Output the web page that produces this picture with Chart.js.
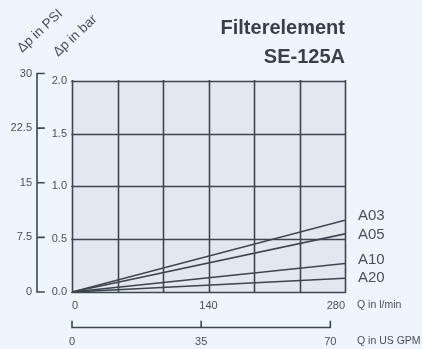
<!DOCTYPE html>
<html>
<head>
<meta charset="utf-8">
<title>Filterelement SE-125A</title>
<script src="https://cdn.jsdelivr.net/npm/chart.js@4/dist/chart.umd.min.js"></script>
<style>
  html, body { margin: 0; padding: 0; background: #eef6fd; }
  canvas { display: block; }
</style>
</head>
<body>
<canvas id="chart" width="422" height="349"></canvas>
<script>
// Flow rate in l/min and pressure drop in bar for each filter fineness
const flowLpm = [0, 280];
const seriesNames = ['A03', 'A05', 'A10', 'A20'];
const dpA03 = [0, 0.68];
const dpA05 = [0, 0.55];
const dpA10 = [0, 0.27];
const dpA20 = [0, 0.13];

// Tick labels
const flowTicks = [0, 140, 280];
const gpmTicks = [0, 35, 70];
const barTicks = [0, 0.5, 1.0, 1.5, 2.0];
const psiTicks = [0, 7.5, 15, 22.5, 30];

// Unit conversions
const BAR_PER_PSI = 0.0689476;
const LPM_PER_GPM = 3.78541;

const INK = '#3c4650';
const TEXT = '#4a4f55';
const FONT = "'Liberation Sans', Arial, sans-serif";

const seriesValues = [dpA03, dpA05, dpA10, dpA20];
const labelNudge = [-4, 1, -4, 0];

function fixedTicks(values) {
  return function (scale) { scale.ticks = values.map(v => ({ value: v })); };
}

function rotatedText(ctx, text, x, y, deg) {
  ctx.save();
  ctx.translate(x, y);
  ctx.rotate(-deg * Math.PI / 180);
  ctx.fillText(text, 0, 0);
  ctx.restore();
}

const decorations = {
  id: 'decorations',
  beforeDraw(chart) {
    const { ctx, scales } = chart;
    const x = scales.x, y = scales.y;
    ctx.save();
    ctx.fillStyle = '#eef6fd';
    ctx.fillRect(0, 0, chart.width, chart.height);
    // plot panel
    const l = x.getPixelForValue(0), r = x.getPixelForValue(280);
    const t = y.getPixelForValue(2.0), b = y.getPixelForValue(0);
    ctx.fillStyle = '#e2e8f0';
    ctx.fillRect(l, t, r - l, b - t);
    ctx.restore();
  },
  afterDatasetsDraw(chart) {
    const { ctx, scales } = chart;
    const x = scales.x, y = scales.y, psi = scales.psi, gpm = scales.gpm;
    const l = x.getPixelForValue(0), r = x.getPixelForValue(280);
    const t = y.getPixelForValue(2.0), b = y.getPixelForValue(0);
    ctx.save();
    ctx.strokeStyle = INK;
    ctx.lineWidth = 1.6;
    ctx.lineCap = 'square';
    // grid
    ctx.beginPath();
    for (let i = 0; i <= 6; i++) {
      const px = Math.round(x.getPixelForValue(i * 280 / 6)) + 0.5;
      ctx.moveTo(px, t); ctx.lineTo(px, b);
    }
    for (const v of barTicks) {
      const py = Math.round(y.getPixelForValue(v)) + 0.5;
      ctx.moveTo(l, py); ctx.lineTo(r, py);
    }
    ctx.stroke();

    // PSI axis: line with ticks pointing toward the plot
    const ax = psi.right;
    ctx.beginPath();
    ctx.moveTo(ax, psi.getPixelForValue(30));
    ctx.lineTo(ax, psi.getPixelForValue(0));
    for (const v of psiTicks) {
      const py = psi.getPixelForValue(v);
      ctx.moveTo(ax, py); ctx.lineTo(ax + 7, py);
    }
    ctx.stroke();

    // US GPM axis: line with ticks pointing up
    const gy = gpm.top + 13.5;
    ctx.beginPath();
    ctx.moveTo(gpm.getPixelForValue(0), gy);
    ctx.lineTo(gpm.getPixelForValue(70), gy);
    for (const v of gpmTicks) {
      const px = gpm.getPixelForValue(v);
      ctx.moveTo(px, gy); ctx.lineTo(px, gy - 6);
    }
    ctx.stroke();

    // series names at the line ends
    ctx.fillStyle = TEXT;
    ctx.font = '15px ' + FONT;
    ctx.textAlign = 'left';
    ctx.textBaseline = 'middle';
    seriesNames.forEach((name, i) => {
      const vals = seriesValues[i];
      const py = y.getPixelForValue(vals[vals.length - 1]) + labelNudge[i];
      ctx.fillText(name, r + 13, py);
    });

    // axis titles
    ctx.font = '10.5px ' + FONT;
    ctx.fillText('Q in l/min', 357, x.top + 7 + 6.6);
    ctx.fillText('Q in US GPM', 357, gpm.top + 21 + 6.6);

    ctx.font = '13.5px ' + FONT;
    ctx.textBaseline = 'alphabetic';
    rotatedText(ctx, '\u0394p in PSI', 22, 53, 43);
    rotatedText(ctx, '\u0394p in bar', 58, 57, 43);
    ctx.restore();
  }
};

new Chart(document.getElementById('chart'), {
  type: 'line',
  data: {
    datasets: seriesNames.map((name, i) => ({
      label: name,
      data: flowLpm.map((f, j) => ({ x: f, y: seriesValues[i][j] })),
      borderColor: INK,
      borderWidth: 1.6,
      pointRadius: 0,
      fill: false,
      xAxisID: 'x',
      yAxisID: 'y'
    }))
  },
  options: {
    responsive: false,
    animation: false,
    devicePixelRatio: 1,
    layout: { padding: { left: 0, right: 77, top: 0, bottom: 0 } },
    plugins: {
      legend: { display: false },
      tooltip: { enabled: false },
      title: {
        display: true,
        text: ['Filterelement', 'SE-125A'],
        align: 'end',
        fullSize: false,
        color: '#3a4048',
        font: { family: FONT, size: 20, weight: 'bold', lineHeight: 1.45 },
        padding: { top: 13.5, bottom: 2 }
      }
    },
    scales: {
      x: {
        type: 'linear', position: 'bottom', weight: 0,
        min: 0, max: 280,
        afterBuildTicks: fixedTicks(flowTicks),
        afterFit(s) { s.height = 22; },
        grid: { display: false, drawTicks: false },
        border: { display: false },
        ticks: { color: TEXT, padding: 7, maxRotation: 0, align: 'inner',
                 font: { family: FONT, size: 11 } }
      },
      gpm: {
        type: 'linear', position: 'bottom', weight: 1,
        min: 0, max: 280 / LPM_PER_GPM,
        afterBuildTicks: fixedTicks(gpmTicks),
        afterFit(s) { s.height = 35; },
        grid: { display: false, drawTicks: false },
        border: { display: false },
        ticks: { color: TEXT, padding: 21, maxRotation: 0, font: { family: FONT, size: 11 } }
      },
      y: {
        type: 'linear', position: 'left', weight: 0,
        min: 0, max: 30 * BAR_PER_PSI,
        afterBuildTicks: fixedTicks(barTicks),
        afterFit(s) { s.width = 35; },
        grid: { display: false, drawTicks: false },
        border: { display: false },
        ticks: { color: TEXT, padding: 5, font: { family: FONT, size: 11 },
                 callback: v => v.toFixed(1) }
      },
      psi: {
        type: 'linear', position: 'left', weight: 1,
        min: 0, max: 30,
        afterBuildTicks: fixedTicks(psiTicks),
        afterFit(s) { s.width = 37; },
        grid: { display: false, drawTicks: false },
        border: { display: false },
        ticks: { color: TEXT, padding: 5, font: { family: FONT, size: 11 } }
      }
    }
  },
  plugins: [decorations]
});
</script>
</body>
</html>
